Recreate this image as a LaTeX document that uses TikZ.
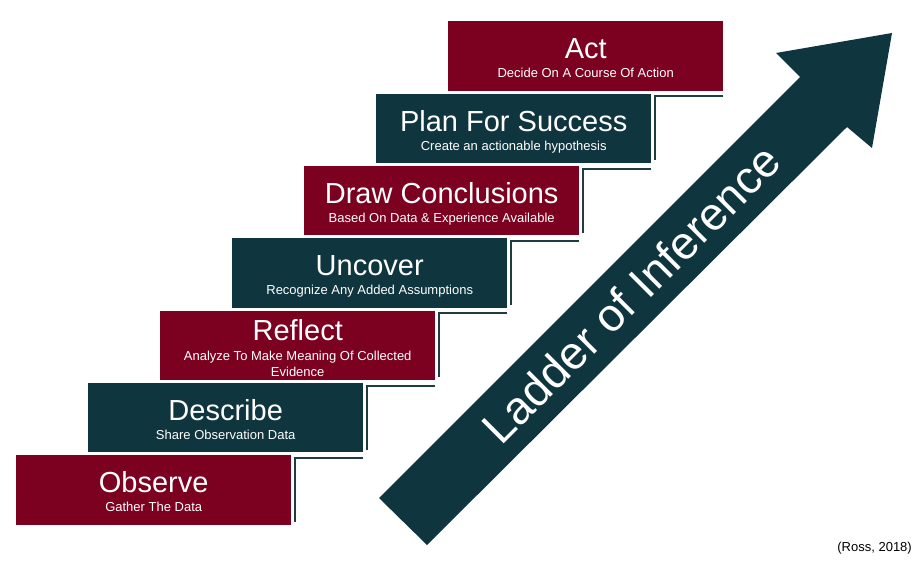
\documentclass[tikz,border=0pt]{standalone}
\usepackage{fontspec}
\setmainfont{Liberation Sans}
\definecolor{ladred}{RGB}{124,0,32}
\definecolor{ladteal}{RGB}{15,54,62}
\definecolor{riserc}{RGB}{30,60,66}
\begin{document}
\begin{tikzpicture}[x=1pt,y=1pt,
  stepbox/.style={draw=none, minimum width=275pt, minimum height=69.5pt, inner sep=0pt, anchor=north west},
  redbox/.style={stepbox, fill=ladred},
  tealbox/.style={stepbox, fill=ladteal},
  title/.style={text=white, font=\fontsize{29}{31}\selectfont, anchor=base, inner sep=0pt},
  sub/.style={text=white, font=\fontsize{13}{15}\selectfont, anchor=base, inner sep=0pt},
  riser/.style={draw=riserc, line width=2pt},
  bigarrow/.style={fill=ladteal, draw=none}]
\useasboundingbox (0,0) rectangle (923,563);

% steps
\node[redbox]  (b0) at (16,108) {};
\node[tealbox] (b1) at (88,180.3) {};
\node[redbox]  (b2) at (160,252.6) {};
\node[tealbox] (b3) at (232,324.9) {};
\node[redbox]  (b4) at (304,397.2) {};
\node[tealbox] (b5) at (376,469.5) {};
\node[redbox]  (b6) at (448,541.8) {};

% risers
\foreach \i [evaluate=\i as \j using int(\i+1)] in {0,...,5} {
  \coordinate (r\i) at ([shift={(4pt,-3pt)}]b\i.north east);
  \draw[riser] (r\i -| b\j.east) -- (r\i) -- ([shift={(4pt,3pt)}]b\i.south east);
}

% texts
\node[title] (t0) at ([yshift=-37.7pt]b0.north) {Observe};
\node[sub]   (s0) at ([yshift=-56.8pt]b0.north) {Gather The Data};
\node[title] (t1) at ([yshift=-37.7pt]b1.north) {Describe};
\node[sub]   (s1) at ([yshift=-56.8pt]b1.north) {Share Observation Data};
\node[title] (t2) at ([yshift=-30pt]b2.north) {Reflect};
\node[sub]   (s2) at ([yshift=-50pt]b2.north) {Analyze To Make Meaning Of Collected};
\node[sub]   (s2b) at ([yshift=-65.7pt]b2.north) {Evidence};
\node[title] (t3) at ([yshift=-37.7pt]b3.north) {Uncover};
\node[sub]   (s3) at ([yshift=-56.8pt]b3.north) {Recognize Any Added Assumptions};
\node[title] (t4) at ([yshift=-37.7pt]b4.north) {Draw Conclusions};
\node[sub]   (s4) at ([yshift=-56.8pt]b4.north) {Based On Data \& Experience Available};
\node[title] (t5) at ([yshift=-37.7pt]b5.north) {Plan For Success};
\node[sub]   (s5) at ([yshift=-56.8pt]b5.north) {Create an actionable hypothesis};
\node[title] (t6) at ([yshift=-37.7pt]b6.north) {Act};
\node[sub]   (s6) at ([yshift=-56.8pt]b6.north) {Decide On A Course Of Action};

% arrow
\coordinate (aA) at (379,65);
\coordinate (aB) at (427,18);
\coordinate (aC) at (847,436);
\coordinate (aD) at (872,415);
\coordinate (aE) at (892,530);
\coordinate (aF) at (776,510);
\coordinate (aG) at (800,486);
\fill[bigarrow] (aA) -- (aB) -- (aC) -- (aD) -- (aE) -- (aF) -- (aG) -- cycle;
\node[text=white, font=\fontsize{46}{48}\selectfont, rotate=45, inner sep=0pt] (lad) at (631,269) {Ladder of Inference};

% citation
\node[anchor=base east, inner sep=0pt, font=\fontsize{13}{15}\selectfont] (cite) at (912,12) {(Ross, 2018)};
\end{tikzpicture}
\end{document}
